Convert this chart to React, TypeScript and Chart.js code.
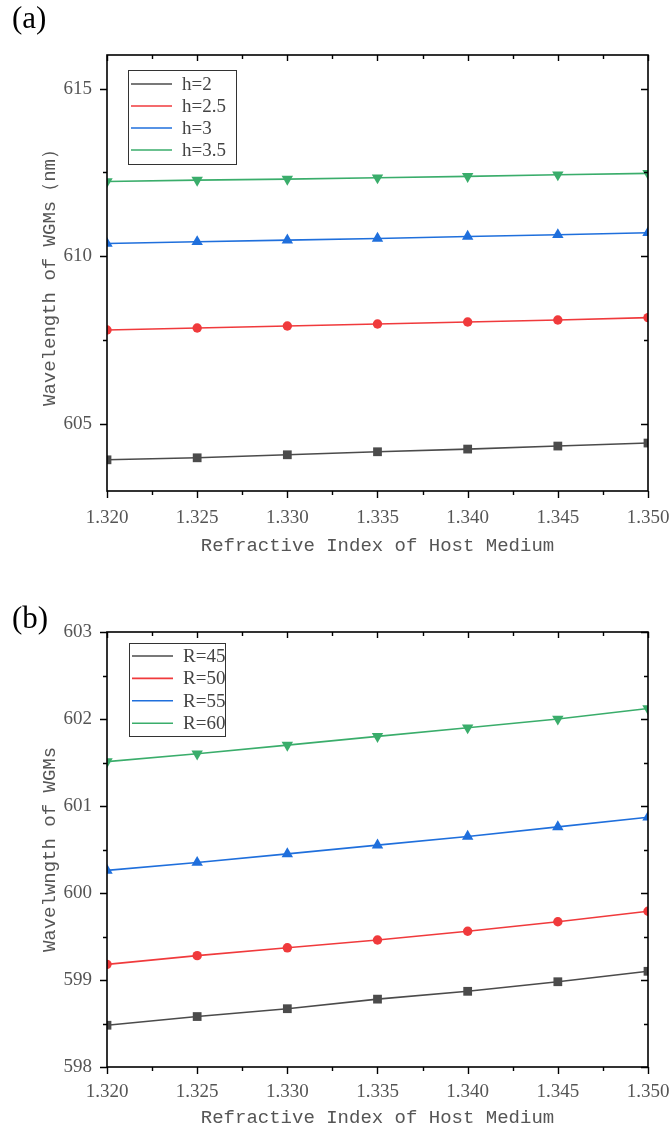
import React, { useEffect, useRef } from "react";
import { Chart, registerables } from "chart.js";

Chart.register(...registerables);

// Shared x values: refractive index of the host medium
const refractiveIndex = [1.32, 1.325, 1.33, 1.335, 1.34, 1.345, 1.35];

// Panel (a): WGM wavelength (nm) for different thickness h
const hLabels = ["h=2", "h=2.5", "h=3", "h=3.5"];
const wlH2 = [603.93, 603.99, 604.08, 604.17, 604.25, 604.34, 604.43];
const wlH25 = [607.8, 607.86, 607.92, 607.98, 608.04, 608.1, 608.17];
const wlH3 = [610.38, 610.43, 610.48, 610.53, 610.59, 610.64, 610.7];
const wlH35 = [612.23, 612.27, 612.3, 612.34, 612.38, 612.43, 612.47];

// Panel (b): WGM wavelength for different radius R
const rLabels = ["R=45", "R=50", "R=55", "R=60"];
const wlR45 = [598.48, 598.58, 598.67, 598.78, 598.87, 598.98, 599.1];
const wlR50 = [599.18, 599.28, 599.37, 599.46, 599.56, 599.67, 599.79];
const wlR55 = [600.26, 600.35, 600.45, 600.55, 600.65, 600.76, 600.87];
const wlR60 = [601.51, 601.6, 601.7, 601.8, 601.9, 602.0, 602.12];

const COLORS = ["#4b4b4b", "#f03a3c", "#1f6fdc", "#3aad6b"];
const STYLES = [
  { pointStyle: "rect", rotation: 0, radius: 6.2 },
  { pointStyle: "circle", rotation: 0, radius: 4.7 },
  { pointStyle: "triangle", rotation: 0, radius: 6.6 },
  { pointStyle: "triangle", rotation: 180, radius: 6.6 },
];

const W = 671;
const PLOT_LEFT = 107;
const PLOT_RIGHT = 648;

// Closed frame with outward ticks on left/bottom and inward mirrored ticks on top/right
const framePlugin = {
  id: "frame",
  afterDatasetsDraw(chart: any, _args: any, opts: any) {
    const { ctx, chartArea: a, scales } = chart;
    const xs = scales.x;
    const ys = scales.y;
    ctx.save();
    ctx.strokeStyle = "#000";
    ctx.lineWidth = 1.6;
    ctx.strokeRect(a.left, a.top, a.right - a.left, a.bottom - a.top);

    const withMinor = (scale: any, step: number) => {
      const out: { v: number; major: boolean }[] = [];
      const majors = scale.ticks.map((t: any) => t.value);
      majors.forEach((v: number) => out.push({ v, major: true }));
      const cand = new Set<number>();
      majors.forEach((v: number) => {
        cand.add(+(v - step / 2).toFixed(6));
        cand.add(+(v + step / 2).toFixed(6));
      });
      cand.forEach((v) => {
        if (v >= scale.min - 1e-9 && v <= scale.max + 1e-9) out.push({ v, major: false });
      });
      return out;
    };

    ctx.lineWidth = 1.4;
    ctx.beginPath();
    withMinor(xs, opts.xStep).forEach(({ v, major }) => {
      const px = Math.round(xs.getPixelForValue(v)) + 0.5;
      const outLen = major ? 7 : 4;
      const inLen = major ? 6 : 4;
      ctx.moveTo(px, a.bottom);
      ctx.lineTo(px, a.bottom + outLen);
      ctx.moveTo(px, a.top);
      ctx.lineTo(px, a.top + inLen);
    });
    withMinor(ys, opts.yStep).forEach(({ v, major }) => {
      const py = Math.round(ys.getPixelForValue(v)) + 0.5;
      const outLen = major ? 7 : 4;
      const inLen = major ? 7 : 4;
      ctx.moveTo(a.left, py);
      ctx.lineTo(a.left - outLen, py);
      ctx.moveTo(a.right, py);
      ctx.lineTo(a.right - inLen, py);
    });
    ctx.stroke();
    ctx.restore();
  },
};

// Boxed legend inside the plot: line samples only
const boxLegendPlugin = {
  id: "boxLegend",
  afterDraw(chart: any, _args: any, opts: any) {
    const { ctx, chartArea: a } = chart;
    const x0 = a.left + opts.dx;
    const y0 = a.top + opts.dy;
    ctx.save();
    ctx.strokeStyle = "#333";
    ctx.lineWidth = 1;
    ctx.strokeRect(Math.round(x0) + 0.5, Math.round(y0) + 0.5, opts.w, opts.h);
    ctx.font = "19px 'Liberation Serif'";
    ctx.textBaseline = "middle";
    ctx.textAlign = "left";
    chart.data.datasets.forEach((ds: any, i: number) => {
      const y = y0 + opts.firstRow + i * opts.rowH;
      ctx.strokeStyle = ds.borderColor;
      ctx.lineWidth = 1.6;
      ctx.beginPath();
      ctx.moveTo(x0 + 3, y);
      ctx.lineTo(x0 + 44, y);
      ctx.stroke();
      ctx.fillStyle = "#444";
      ctx.fillText(ds.label, x0 + 54, y + 1);
    });
    ctx.restore();
  },
};

// Panel tag such as "(a)"
const tagPlugin = {
  id: "tag",
  afterDraw(chart: any, _args: any, opts: any) {
    const { ctx } = chart;
    ctx.save();
    ctx.font = "31px 'Liberation Serif'";
    ctx.fillStyle = "#000";
    ctx.textBaseline = "alphabetic";
    ctx.fillText(opts.text, opts.x, opts.y);
    ctx.restore();
  },
};

type PanelProps = {
  top: number;
  height: number;
  plotTop: number;
  plotBottom: number;
  xScaleH: number;
  tag: string;
  tagY: number;
  labels: string[];
  series: number[][];
  yMin: number;
  yMax: number;
  yStep: number;
  yTitle: string;
  xTickPad: number;
  xTitlePad: number;
  legend: { dx: number; dy: number; w: number; h: number; firstRow: number; rowH: number };
};

function Panel(p: PanelProps) {
  const ref = useRef<HTMLCanvasElement>(null);
  useEffect(() => {
    const datasets = p.series.map((vals, i) => ({
      label: p.labels[i],
      data: refractiveIndex.map((x, k) => ({ x, y: vals[k] })),
      borderColor: COLORS[i],
      backgroundColor: COLORS[i],
      borderWidth: 1.6,
      pointStyle: STYLES[i].pointStyle,
      rotation: STYLES[i].rotation,
      pointRadius: STYLES[i].radius,
      pointBorderWidth: 0,
      pointBackgroundColor: COLORS[i],
      tension: 0,
    }));
    const chart = new Chart(ref.current as HTMLCanvasElement, {
      type: "line",
      data: { datasets } as any,
      plugins: [framePlugin, boxLegendPlugin, tagPlugin],
      options: {
        responsive: false,
        animation: false,
        devicePixelRatio: 1,
        layout: {
          padding: {
            left: 0,
            top: p.plotTop,
            right: W - PLOT_RIGHT,
            bottom: p.height - p.plotBottom - p.xScaleH,
          },
        },
        plugins: {
          legend: { display: false },
          tooltip: { enabled: false },
          frame: { xStep: 0.005, yStep: p.yStep },
          boxLegend: p.legend,
          tag: { text: p.tag, x: 12, y: p.tagY },
        } as any,
        scales: {
          x: {
            type: "linear",
            min: 1.32,
            max: 1.35,
            afterFit: (s: any) => {
              s.height = p.xScaleH;
              s.paddingLeft = 0;
              s.paddingRight = 0;
            },
            grid: { display: false, drawTicks: false },
            border: { display: false },
            ticks: {
              stepSize: 0.005,
              includeBounds: false,
              autoSkip: false,
              maxRotation: 0,
              padding: p.xTickPad,
              color: "#555",
              font: { family: "'Liberation Serif'", size: 19 },
              callback: (v: any) => Number(v).toFixed(3),
            },
            title: {
              display: true,
              text: "Refractive Index of Host Medium",
              color: "#555",
              font: { family: "'Liberation Mono'", size: 19 },
              padding: { top: 0, bottom: p.xTitlePad },
            },
          },
          y: {
            type: "linear",
            min: p.yMin,
            max: p.yMax,
            afterFit: (s: any) => {
              s.width = PLOT_LEFT;
              s.paddingTop = 0;
              s.paddingBottom = 0;
            },
            grid: { display: false, drawTicks: false },
            border: { display: false },
            ticks: {
              stepSize: p.yStep,
              includeBounds: false,
              padding: 15,
              color: "#555",
              font: { family: "'Liberation Serif'", size: 19 },
              callback: (v: any) => String(Math.round(Number(v))),
            },
            title: {
              display: true,
              text: p.yTitle,
              color: "#555",
              font: { family: "'Liberation Mono'", size: 19 },
              padding: { top: 38.6, bottom: 0 },
            },
          },
        },
      } as any,
    });
    return () => chart.destroy();
  }, []);
  return (
    <canvas
      ref={ref}
      width={W}
      height={p.height}
      style={{ position: "absolute", left: 0, top: p.top, width: W, height: p.height }}
    />
  );
}

export default function App() {
  return (
    <div style={{ position: "absolute", left: 0, top: 0, width: W, height: 1133, background: "#fff" }}>
      <Panel
        top={0}
        height={575}
        plotTop={55}
        plotBottom={491}
        xScaleH={70}
        tag="(a)"
        tagY={28}
        labels={hLabels}
        series={[wlH2, wlH25, wlH3, wlH35]}
        yMin={603}
        yMax={616}
        yStep={5}
        yTitle="Wavelength of WGMs（nm）"
        xTickPad={16}
        xTitlePad={3.6}
        legend={{ dx: 21, dy: 15, w: 108, h: 94, firstRow: 14, rowH: 22 }}
      />
      <Panel
        top={575}
        height={558}
        plotTop={57}
        plotBottom={492}
        xScaleH={64}
        tag="(b)"
        tagY={53}
        labels={rLabels}
        series={[wlR45, wlR50, wlR55, wlR60]}
        yMin={598}
        yMax={603}
        yStep={1}
        yTitle="Wavelwngth of WGMs"
        xTickPad={14}
        xTitlePad={1.6}
        legend={{ dx: 22, dy: 11, w: 96, h: 93, firstRow: 13, rowH: 22.4 }}
      />
    </div>
  );
}
